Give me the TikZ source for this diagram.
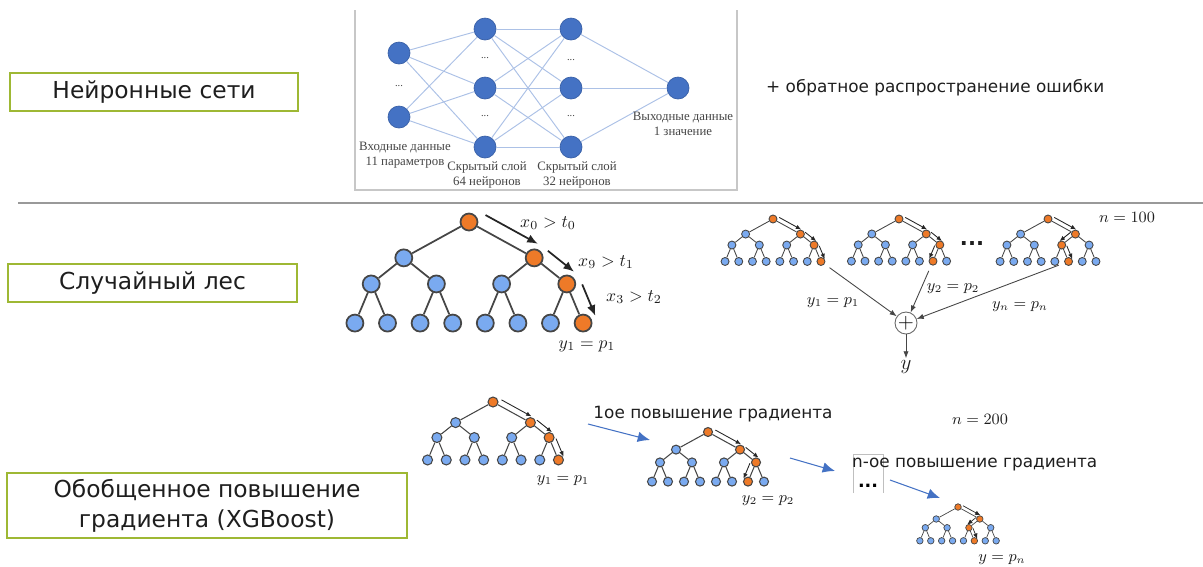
\documentclass[tikz,border=0pt]{standalone}
\usepackage{fontspec}
\setmainfont{DejaVu Sans}
\newfontfamily\nnfont{Liberation Serif}
\usetikzlibrary{calc,arrows.meta}

\definecolor{boxgreen}{RGB}{158,184,52}
\definecolor{nnblue}{RGB}{68,114,196}
\definecolor{nnlink}{RGB}{172,193,230}
\definecolor{coldblue}{RGB}{122,170,240}
\definecolor{hotorange}{RGB}{238,122,40}
\definecolor{inkgray}{RGB}{70,70,70}
\definecolor{textblack}{RGB}{30,30,30}

\tikzset{
  titlebox/.style={draw=boxgreen, line width=1.2pt, align=center, text=textblack,
    font=\fontsize{13.3}{17}\selectfont},
  plaintext/.style={text=textblack, font=\fontsize{9.6}{12}\selectfont},
  nnnode/.style={circle, fill=nnblue, draw=nnblue!85!black, line width=0.4pt,
    minimum size=0.44cm, inner sep=0pt},
  nnedge/.style={draw=nnlink, line width=0.55pt},
  nnlabel/.style={align=center, text=inkgray, font=\nnfont\fontsize{7.3}{8.6}\selectfont},
  nndots/.style={text=inkgray, font=\nnfont\fontsize{6}{7}\selectfont, inner sep=0pt},
  coldnode/.style={circle, fill=coldblue, draw=inkgray, inner sep=0pt},
  hotnode/.style={circle, fill=hotorange, draw=inkgray, inner sep=0pt},
  treeedge/.style={draw=inkgray},
  stepto/.style={draw=black!85, line width=0.5pt, -{Latex[length=3pt,width=2.6pt]}},
  sumarrow/.style={draw=inkgray, line width=0.5pt, -{Latex[length=4pt,width=3pt]}},
  flowarrow/.style={draw=nnblue, line width=0.6pt, -{Latex[length=7pt,width=6pt]}},
  mathlabel/.style={text=textblack, inner sep=1pt}
}

\newcommand{\dectree}[7]{%
  \begin{scope}[shift={#2}, scale=#3]
    \foreach \lv/\ly/\st in {0/0/8,1/1.1/4,2/1.9/2,3/3.1/1} {
      \pgfmathtruncatemacro{\nn}{8/\st-1}
      \foreach \i in {0,...,\nn} {
        \pgfmathsetmacro{\xx}{\st*(\i-\nn/2)}
        \pgfmathtruncatemacro{\hot}{(\lv==0)||(\lv==1&&\i==1)||(\lv==2&&\i==#6)||(\lv==3&&\i==#7)}
        \ifnum\hot=1 \def\ncol{hotnode}\else\def\ncol{coldnode}\fi
        \node[\ncol, minimum size=#4, line width=#5] (#1-\lv-\i) at (\xx,\ly) {};
      }
    }
    \foreach \lv in {1,2,3} {
      \pgfmathtruncatemacro{\nn}{2^\lv-1}
      \pgfmathtruncatemacro{\up}{\lv-1}
      \foreach \i in {0,...,\nn} {
        \pgfmathtruncatemacro{\pa}{floor(\i/2)}
        \draw[treeedge, line width=#5] (#1-\up-\pa) -- (#1-\lv-\i);
      }
    }
  \end{scope}}

\newcommand{\tstep}[5][]{%
  \draw[stepto,#1] ($(#2)!0.15!(#3)!#5!#4:(#3)$) -- ($(#2)!0.95!(#3)!#5!#4:(#3)$);}

\begin{document}
\begin{tikzpicture}[x=0.02cm,y=-0.02cm]
    \useasboundingbox (0,0) rectangle (1203,566);

    \node[titlebox, minimum width=5.76cm, minimum height=0.76cm] (nnbox) at (154,92) {Нейронные сети};
    \node[titlebox, minimum width=5.78cm, minimum height=0.76cm] (rfbox) at (152.5,283) {Случайный лес};
    \node[titlebox, minimum width=8cm, minimum height=1.3cm] (xgbox) at (207,505.5)
        {Обобщенное повышение\\градиента (XGBoost)};

    \draw[black!22, line width=0.6pt] (355,10) -- (355,190) -- (737,190) -- (737,10);

    \node[nnnode] (i1) at (399,53) {};
    \node[nnnode] (i2) at (399,117) {};
    \node[nnnode] (h1) at (485,29) {};
    \node[nnnode] (h2) at (485,88) {};
    \node[nnnode] (h3) at (485,147) {};
    \node[nnnode] (g1) at (571,29) {};
    \node[nnnode] (g2) at (571,88) {};
    \node[nnnode] (g3) at (571,147) {};
    \node[nnnode] (out) at (678,88) {};
    \foreach \a in {i1,i2}
        \foreach \b in {h1,h2,h3}
            \draw[nnedge] (\a) -- (\b);
    \foreach \a in {h1,h2,h3}
        \foreach \b in {g1,g2,g3}
            \draw[nnedge] (\a) -- (\b);
    \foreach \a in {g1,g2,g3}
        \draw[nnedge] (\a) -- (out);

    \node[nndots] (idots) at (399,86) {...};
    \node[nndots] (hdots1) at (485,58) {...};
    \node[nndots] (hdots2) at (485,116) {...};
    \node[nndots] (gdots1) at (571,60) {...};
    \node[nndots] (gdots2) at (571,116) {...};

    \node[nnlabel] (inlab) at (405,155) {Входные данные\\11 параметров};
    \node[nnlabel] (h1lab) at (487,175) {Скрытый слой\\64 нейронов};
    \node[nnlabel] (h2lab) at (577,175) {Скрытый слой\\32 нейронов};
    \node[nnlabel] (outlab) at (683,124) {Выходные данные\\1 значение};

    \node[plaintext, anchor=west] (backprop) at (760,88) {+ обратное распространение ошибки};

    \draw[black!40, line width=0.6pt] (18,203) -- (1203,203);

    % random forest, one tree
    \dectree{big}{(469,222)}{32.6}{0.34cm}{1pt}{3}{7}
    \tstep[line width=1pt, -{Latex[length=6pt,width=5pt]}]{big-0-0}{big-1-1}{90}{8pt}
    \tstep[line width=1pt, -{Latex[length=6pt,width=5pt]}]{big-1-1}{big-2-3}{90}{8pt}
    \tstep[line width=1pt, -{Latex[length=6pt,width=5pt]}]{big-2-3}{big-3-7}{90}{8pt}
    \node[mathlabel] (c0) at (548,223) {$x_0 > t_0$};
    \node[mathlabel] (c1) at (606,262) {$x_9 > t_1$};
    \node[mathlabel] (c2) at (634,297) {$x_3 > t_2$};
    \node[mathlabel] (bigout) at (587,346) {$y_1 = p_1$};

    % random forest, ensemble
    \dectree{fa}{(773,219)}{13.7}{0.16cm}{0.5pt}{3}{7}
    \dectree{fb}{(899,219)}{13.6}{0.16cm}{0.5pt}{3}{6}
    \dectree{fc}{(1048,219)}{13.7}{0.16cm}{0.5pt}{2}{5}
    \tstep{fa-0-0}{fa-1-1}{90}{2.5pt}
    \tstep{fa-1-1}{fa-2-3}{90}{2.5pt}
    \tstep{fa-2-3}{fa-3-7}{90}{2.5pt}
    \tstep{fb-0-0}{fb-1-1}{90}{2.5pt}
    \tstep{fb-1-1}{fb-2-3}{90}{2.5pt}
    \tstep{fb-2-3}{fb-3-6}{-90}{2.5pt}
    \tstep{fc-0-0}{fc-1-1}{90}{2.5pt}
    \tstep{fc-1-1}{fc-2-2}{-90}{2.5pt}
    \tstep{fc-2-2}{fc-3-5}{90}{2.5pt}
    \node[text=textblack, font=\bfseries\large] (fdots) at (972,243) {...};
    \node[mathlabel, font=\small] (nforest) at (1127,217) {$n = 100$};

    \node[circle, draw=black!60, line width=0.5pt, minimum size=0.44cm, inner sep=0pt,
        font=\large] (sum) at (906,323) {$+$};
    \draw[sumarrow, shorten <=3.5pt] (fa-3-7) -- (sum);
    \draw[sumarrow, shorten <=3.5pt] (fb-3-6) -- (sum);
    \draw[sumarrow, shorten <=3.5pt] (fc-3-5) -- (sum);
    \node[mathlabel, font=\large] (yall) at (906,367) {$y$};
    \draw[sumarrow] (sum) -- (yall);
    \node[mathlabel, font=\small] (fya) at (833,303) {$y_1 = p_1$};
    \node[mathlabel, font=\small] (fyb) at (953,289) {$y_2 = p_2$};
    \node[mathlabel, font=\small] (fyc) at (1020,307) {$y_n = p_n$};

    % gradient boosting
    \dectree{xa}{(493,402)}{18.7}{0.2cm}{0.6pt}{3}{7}
    \tstep{xa-0-0}{xa-1-1}{90}{3.4pt}
    \tstep{xa-1-1}{xa-2-3}{90}{3.4pt}
    \tstep{xa-2-3}{xa-3-7}{90}{3.4pt}
    \node[mathlabel, font=\small] (xya) at (563,481) {$y_1 = p_1$};

    \dectree{xb}{(708,432)}{16}{0.18cm}{0.6pt}{3}{6}
    \tstep{xb-0-0}{xb-1-1}{90}{3pt}
    \tstep{xb-1-1}{xb-2-3}{90}{3pt}
    \tstep{xb-2-3}{xb-3-6}{-90}{3pt}
    \node[mathlabel, font=\small] (xyb) at (768,501) {$y_2 = p_2$};

    \dectree{xc}{(958,507)}{10.9}{0.13cm}{0.4pt}{2}{5}
    \tstep[line width=0.4pt]{xc-0-0}{xc-1-1}{90}{2pt}
    \tstep[line width=0.4pt]{xc-1-1}{xc-2-2}{-90}{2pt}
    \tstep[line width=0.4pt]{xc-2-2}{xc-3-5}{90}{2pt}
    \node[mathlabel, font=\small] (xyc) at (1002,560) {$y = p_n$};

    \draw[black!25, line width=0.5pt] (853,493) -- (853,454) -- (883,454) -- (883,493);
    \node[text=black, font=\bfseries] (xdots) at (868,486) {...};
    \node[plaintext] (boost1) at (713,414) {1ое повышение градиента};
    \node[plaintext, anchor=west] (boostn) at (846,465) {n-ое повышение градиента};
    \node[mathlabel, font=\small] (nboost) at (980,419) {$n = 200$};

    \coordinate (fa1) at (588,424);
    \coordinate (fb1) at (650,440);
    \coordinate (fa2) at (790,458);
    \coordinate (fb2) at (835,471);
    \coordinate (fa3) at (890,480);
    \coordinate (fb3) at (940,498);
    \draw[flowarrow] (fa1) -- (fb1);
    \draw[flowarrow] (fa2) -- (fb2);
    \draw[flowarrow] (fa3) -- (fb3);
\end{tikzpicture}
\end{document}
